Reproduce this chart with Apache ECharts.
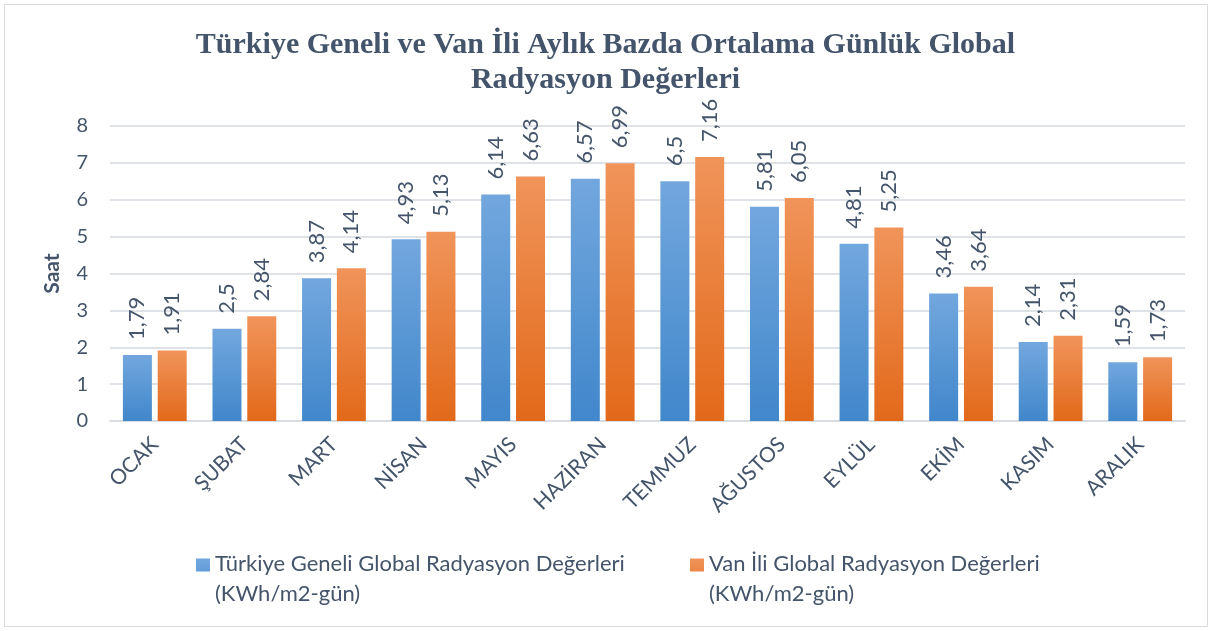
<!DOCTYPE html>
<html>
<head>
<meta charset="utf-8">
<script src="https://cdn.jsdelivr.net/npm/echarts@6/dist/echarts.min.js"></script>
<style>
  html, body { margin: 0; padding: 0; background: #fff; }
  #chart { width: 1211px; height: 631px; }
</style>
</head>
<body>
<div id="chart"></div>
<script>
  // aylar
  var months = ['OCAK', 'ŞUBAT', 'MART', 'NİSAN', 'MAYIS', 'HAZİRAN', 'TEMMUZ', 'AĞUSTOS', 'EYLÜL', 'EKİM', 'KASIM', 'ARALIK'];
  var turkiye = [1.79, 2.5, 3.87, 4.93, 6.14, 6.57, 6.5, 5.81, 4.81, 3.46, 2.14, 1.59];
  var van = [1.91, 2.84, 4.14, 5.13, 6.63, 6.99, 7.16, 6.05, 5.25, 3.64, 2.31, 1.73];
  var yTicks = [0, 1, 2, 3, 4, 5, 6, 7, 8];
  var seriesNames = [
    'Türkiye Geneli Global Radyasyon Değerleri\n(KWh/m2-gün)',
    'Van İli Global Radyasyon Değerleri\n(KWh/m2-gün)'
  ];

  var textColor = '#44546A';
  var font = 'Lato, "Open Sans", sans-serif';
  // kare ikon ilk satirin hizasinda dursun diye alt tarafa bos nokta
  var legendIcon = 'path://M0,0L14,0L14,13L0,13Z M0,41L0.1,41L0,41Z';

  function grad(top, bottom) {
    return new echarts.graphic.LinearGradient(0, 0, 0, 1, [
      { offset: 0, color: top },
      { offset: 1, color: bottom }
    ]);
  }

  function barLabel() {
    return {
      show: true,
      position: 'top',
      rotate: 90,
      align: 'left',
      verticalAlign: 'middle',
      distance: 15,
      color: textColor,
      fontFamily: font,
      fontSize: 22,
      formatter: function (p) { return String(p.value).replace('.', ','); }
    };
  }

  function legendAt(left, name) {
    return {
      top: 544,
      left: left,
      itemWidth: 14,
      itemHeight: 41,
      itemGap: 0,
      itemTextGap: 3,
      icon: legendIcon,
      textStyle: { color: textColor, fontFamily: font, fontSize: 22, lineHeight: 30 },
      data: [name]
    };
  }

  var chart = echarts.init(document.getElementById('chart'));
  chart.setOption({
    backgroundColor: '#fff',
    animation: false,
    graphic: [{
      type: 'rect',
      shape: { x: 4.5, y: 4.5, width: 1203, height: 622 },
      style: { fill: 'none', stroke: '#d9d9d9', lineWidth: 1 },
      silent: true
    }],
    title: {
      text: 'Türkiye Geneli ve Van İli Aylık Bazda Ortalama Günlük Global\nRadyasyon Değerleri',
      left: 'center',
      top: 23,
      textStyle: {
        fontFamily: '"Liberation Serif", "DejaVu Serif", serif',
        fontWeight: 'bold',
        fontSize: 30,
        lineHeight: 35,
        color: textColor
      }
    },
    legend: [legendAt(191, seriesNames[0]), legendAt(685, seriesNames[1])],
    grid: { left: 110, right: 26, top: 126, bottom: 210 },
    xAxis: {
      type: 'category',
      data: months,
      axisTick: { show: false },
      axisLine: { lineStyle: { color: '#d9dde3', width: 2 } },
      axisLabel: {
        rotate: 45,
        interval: 0,
        margin: 20,
        color: textColor,
        fontFamily: font,
        fontSize: 21
      }
    },
    yAxis: {
      type: 'value',
      min: yTicks[0],
      max: yTicks[yTicks.length - 1],
      interval: 1,
      name: 'Saat',
      nameLocation: 'middle',
      nameGap: 47,
      nameTextStyle: { color: textColor, fontFamily: font, fontSize: 21, fontWeight: 'bold' },
      axisLine: { show: false },
      axisTick: { show: false },
      axisLabel: { color: textColor, fontFamily: font, fontSize: 20, margin: 22 },
      splitLine: { lineStyle: { color: '#dfe3e8', width: 2 } }
    },
    series: [
      {
        name: seriesNames[0],
        type: 'bar',
        data: turkiye,
        barWidth: 29,
        barGap: '20%',
        itemStyle: { color: grad('#72a7de', '#4187cb') },
        label: barLabel()
      },
      {
        name: seriesNames[1],
        type: 'bar',
        data: van,
        barWidth: 29,
        barGap: '20%',
        itemStyle: { color: grad('#f0945a', '#e2691a') },
        label: barLabel()
      }
    ]
  });
  window.addEventListener('resize', function () { chart.resize(); });
</script>
</body>
</html>
